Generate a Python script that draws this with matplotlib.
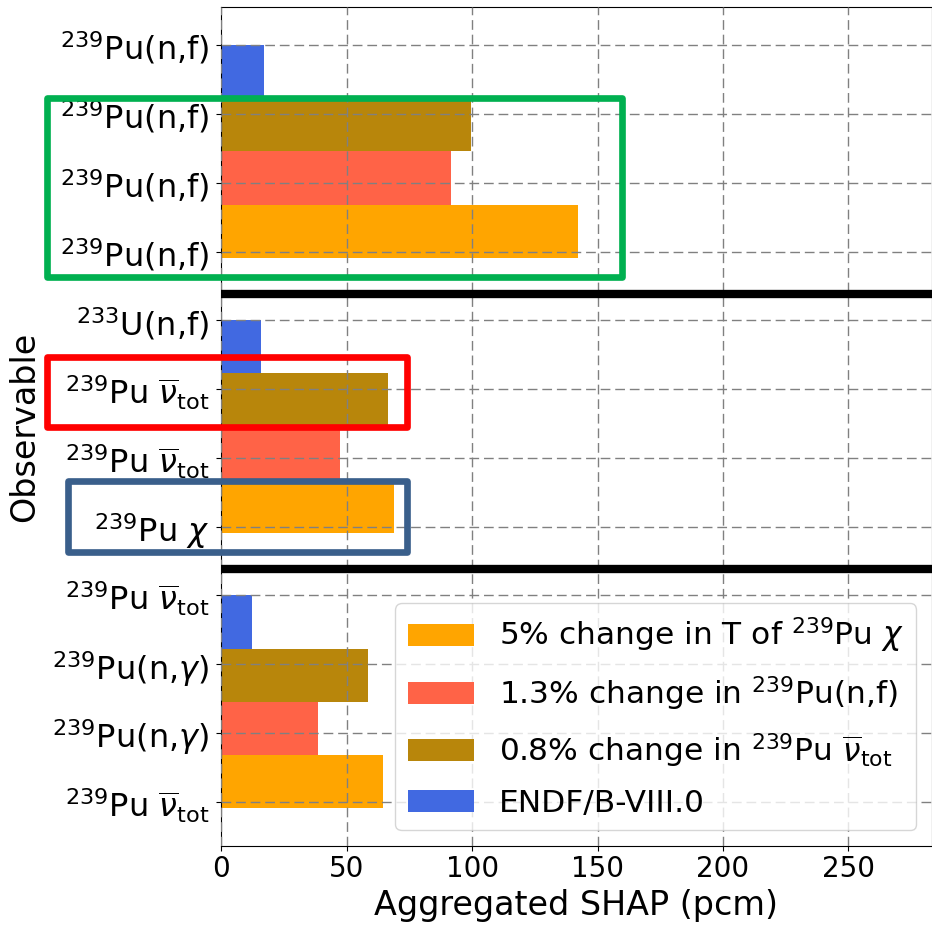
import numpy as np
import matplotlib
matplotlib.use("Agg")
import matplotlib.pyplot as plt
from matplotlib.patches import Rectangle, Patch

# observables, top to bottom
obs_labels = [
    r'$^{239}$Pu(n,f)', r'$^{239}$Pu(n,f)', r'$^{239}$Pu(n,f)', r'$^{239}$Pu(n,f)',
    r'$^{233}$U(n,f)', r'$^{239}$Pu $\overline{\nu}_{\rm tot}$',
    r'$^{239}$Pu $\overline{\nu}_{\rm tot}$', r'$^{239}$Pu $\chi$',
    r'$^{239}$Pu $\overline{\nu}_{\rm tot}$', r'$^{239}$Pu(n,$\gamma$)',
    r'$^{239}$Pu(n,$\gamma$)', r'$^{239}$Pu $\overline{\nu}_{\rm tot}$',
]

# aggregated SHAP (pcm) per case, one value per group (top, middle, bottom)
endf = [17.0, 15.7, 12.2]
nubar = [99.6, 66.5, 58.5]
fission = [91.6, 47.2, 38.6]
chi = [142.2, 68.9, 64.5]

series = [
    ('ENDF/B-VIII.0', endf, 'royalblue'),
    (r'0.8% change in $^{239}$Pu $\overline{\nu}_{\rm tot}$', nubar, 'darkgoldenrod'),
    ('1.3% change in $^{239}$Pu(n,f)', fission, 'tomato'),
    (r'5% change in T of $^{239}$Pu $\chi$', chi, 'orange'),
]


def main():
    fig = plt.figure(figsize=(9.32, 9.30), dpi=100)
    ax = fig.add_axes([0.2375, 0.0906, 0.762, 0.9014])

    n_groups = len(endf)
    bar_h = 0.773
    handles = []
    for k, (label, vals, color) in enumerate(series):
        ypos = np.arange(n_groups) * 4 + k * bar_h
        ax.barh(ypos, vals, height=bar_h, align='edge', color=color, zorder=1)
        handles.append(Patch(facecolor=color, label=label))

    ax.set_yticks(np.arange(len(obs_labels)))
    ax.set_yticklabels(obs_labels)
    ax.set_xlim(0, 283.2)
    ax.set_ylim(11.638, -0.548)

    ax.grid(True, color='gray', linestyle=(0, (7, 3.5)), linewidth=1.0, zorder=2)
    ax.set_axisbelow(False)

    for y in [3.623, 7.616]:
        ax.axhline(y, color='black', linewidth=6, zorder=3)

    ax.tick_params(axis='x', labelsize=20)
    ax.tick_params(axis='y', labelsize=23, pad=5)
    ax.set_xlabel('Aggregated SHAP (pcm)', fontsize=24)
    ax.set_ylabel('Observable', fontsize=24, labelpad=8)

    # highlight boxes
    boxes = [
        (-69.6, 0.775, 159.6, 3.368, '#00b050'),
        (-69.6, 4.535, 74.2, 5.552, '#ff0000'),
        (-61.1, 6.337, 74.2, 7.372, '#3a5f8b'),
    ]
    for x0, y0, x1, y1, c in boxes:
        ax.add_patch(Rectangle((x0, y0), x1 - x0, y1 - y0, fill=False,
                               edgecolor=c, linewidth=4.8, joinstyle='round',
                               clip_on=False, zorder=5))

    ax.legend(handles=handles[::-1], loc='lower right', fontsize=22.5,
              labelspacing=0.6, handlelength=2.1)

    fig.savefig('out.png', dpi=100)


if __name__ == "__main__":
    main()
